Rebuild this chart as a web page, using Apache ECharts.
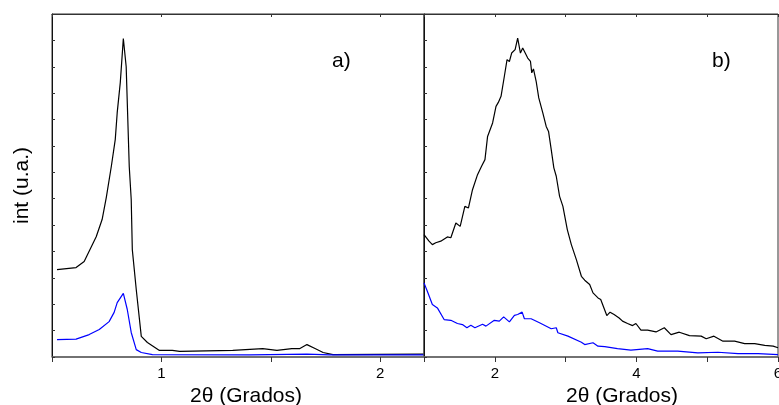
<!DOCTYPE html>
<html>
<head>
<meta charset="utf-8">
<script src="https://cdn.jsdelivr.net/npm/echarts@6/dist/echarts.min.js"></script>
<style>
html,body{margin:0;padding:0;background:#fff;}
#chart{width:779px;height:405px;}
</style>
</head>
<body>
<div id="chart"></div>
<script>
// ---- data ----
const leftBlackX = [0.523,0.610,0.647,0.702,0.729,0.748,0.771,0.789,0.798,0.812,0.826,0.839,0.853,0.862,0.867,0.885,0.908,0.936,0.991,1.050,1.083,1.326,1.463,1.528,1.596,1.633,1.665,1.702,1.739,1.784,2.197];
const leftBlackY = [3.31,3.39,3.62,4.56,5.21,6.04,7.22,8.24,9.26,10.40,12.07,11.00,7.22,5.97,4.07,2.56,0.78,0.55,0.25,0.25,0.21,0.25,0.32,0.25,0.32,0.32,0.47,0.32,0.17,0.09,0.11];
const leftBlueX = [0.523,0.610,0.670,0.716,0.761,0.784,0.798,0.826,0.844,0.862,0.885,0.908,0.959,1.404,1.665,1.771,2.197];
const leftBlueY = [0.66,0.68,0.85,1.04,1.34,1.69,2.06,2.41,1.80,0.93,0.28,0.17,0.09,0.08,0.11,0.08,0.08];

const rightBlackX = [1.000,1.071,1.118,1.166,1.237,1.330,1.379,1.450,1.511,1.577,1.628,1.685,1.756,1.813,1.861,1.898,1.969,2.017,2.050,2.088,2.135,2.173,2.206,2.238,2.287,2.323,2.362,2.394,2.418,2.465,2.504,2.522,2.546,2.584,2.621,2.678,2.726,2.759,2.797,2.834,2.868,2.915,2.962,3.024,3.081,3.152,3.223,3.270,3.340,3.387,3.458,3.496,3.582,3.628,3.685,3.756,3.804,3.875,3.946,3.993,4.064,4.159,4.277,4.394,4.489,4.606,4.749,4.915,4.986,5.095,5.223,5.387,5.529,5.671,5.813,5.932,6.000];
const rightBlackY = [4.64,4.39,4.26,4.33,4.39,4.55,4.52,5.08,4.95,5.71,5.65,6.34,6.91,7.23,7.48,8.36,8.87,9.50,9.65,9.88,10.64,11.27,11.20,11.52,11.65,12.09,11.52,11.71,11.71,11.33,11.20,10.77,10.92,10.45,9.82,9.25,8.74,8.55,7.86,7.17,6.85,6.09,5.71,4.83,4.26,3.69,3.06,2.91,2.75,2.43,2.24,2.18,1.57,1.70,1.61,1.48,1.36,1.27,1.19,1.27,1.02,1.02,0.95,1.11,0.85,0.94,0.81,0.79,0.69,0.79,0.60,0.60,0.51,0.51,0.44,0.41,0.35];
const rightBlueX = [1.000,1.047,1.118,1.189,1.284,1.379,1.472,1.543,1.606,1.662,1.719,1.827,1.875,1.993,2.064,2.125,2.206,2.277,2.323,2.386,2.418,2.513,2.631,2.797,2.868,2.891,3.033,3.223,3.270,3.387,3.458,3.553,3.733,3.922,4.159,4.301,4.584,4.868,5.152,5.435,5.719,6.000];
const rightBlueY = [2.81,2.49,1.99,1.86,1.42,1.39,1.27,1.23,1.11,1.20,1.11,1.24,1.17,1.39,1.36,1.52,1.33,1.58,1.61,1.70,1.45,1.45,1.30,1.07,1.11,0.92,0.79,0.56,0.47,0.54,0.41,0.39,0.32,0.26,0.32,0.22,0.22,0.16,0.18,0.13,0.13,0.09];

const leftTicks = {min: 0.5, max: 2.2, interval: 0.5};
const rightTicks = {min: 1, max: 6, interval: 1};
const yTicks = {min: 0, max: 13, interval: 1};
const xName = '2θ (Grados)';
const yName = 'int (u.a.)';
const panelLabels = ['a)', 'b)'];

const pairs = (xs, ys) => xs.map((x, i) => [x, ys[i]]);
const FONT = 'Liberation Sans, Arial, sans-serif';

function bottomX(grid, t, fmt, pad) {
  return {
    gridIndex: grid, type: 'value', position: 'bottom',
    min: t.min, max: t.max, interval: t.interval,
    axisLine: {show: true, onZero: false, lineStyle: {color: '#666', width: 1.5}},
    axisTick: {show: true, inside: false, length: 5, lineStyle: {color: '#333'}},
    axisLabel: {formatter: fmt, fontSize: 15, color: '#000', margin: 9, fontFamily: FONT},
    splitLine: {show: false},
    name: xName, nameLocation: 'middle', nameGap: 24,
    nameTextStyle: {fontSize: 21, color: '#000', fontFamily: FONT, padding: [0, 0, 0, pad]}
  };
}
function topX(grid, t) {
  return {
    gridIndex: grid, type: 'value', position: 'top',
    min: t.min, max: t.max, interval: t.interval,
    axisLine: {show: true, onZero: false, lineStyle: {color: '#333', width: 1}},
    axisTick: {show: true, inside: true, length: 3, lineStyle: {color: '#333'}},
    axisLabel: {show: false}, splitLine: {show: false}
  };
}
function leftY(grid, withName) {
  const a = {
    gridIndex: grid, type: 'value',
    min: yTicks.min, max: yTicks.max, interval: yTicks.interval,
    axisLine: {show: true, onZero: false, lineStyle: {color: '#111', width: 1}},
    axisTick: {show: true, inside: true, length: 3, lineStyle: {color: '#333'}},
    axisLabel: {show: false}, splitLine: {show: false}
  };
  if (withName) {
    a.name = yName; a.nameLocation = 'middle'; a.nameGap = 19;
    a.nameTextStyle = {fontSize: 21, color: '#000', fontFamily: FONT};
  }
  return a;
}

const chart = echarts.init(document.getElementById('chart'));
chart.setOption({
  animation: false,
  backgroundColor: '#fff',
  grid: [
    {left: 52, right: 355, top: 14, bottom: 48, show: true, borderColor: '#333', borderWidth: 1, containLabel: false, outerBoundsMode: 'none'},
    {left: 424, right: 1, top: 14, bottom: 48, show: true, borderColor: '#333', borderWidth: 1, containLabel: false, outerBoundsMode: 'none'}
  ],
  xAxis: [
    bottomX(0, leftTicks, v => Number.isInteger(v) ? String(v) : '', 16),
    topX(0, leftTicks),
    bottomX(1, rightTicks, v => (v % 2 === 0) ? String(v) : '', 42),
    topX(1, rightTicks)
  ],
  yAxis: [leftY(0, true), leftY(1, false)],
  graphic: [
    {type: 'text', left: 332, top: 51, style: {text: panelLabels[0], fill: '#000', font: '21px ' + FONT}},
    {type: 'text', left: 712, top: 51, style: {text: panelLabels[1], fill: '#000', font: '21px ' + FONT}}
  ],
  series: [
    {type: 'line', xAxisIndex: 0, yAxisIndex: 0, data: pairs(leftBlackX, leftBlackY), showSymbol: false, lineStyle: {color: '#000', width: 1.2}, itemStyle: {color: '#000'}},
    {type: 'line', xAxisIndex: 0, yAxisIndex: 0, data: pairs(leftBlueX, leftBlueY), showSymbol: false, lineStyle: {color: '#0000ff', width: 1.2}, itemStyle: {color: '#0000ff'}},
    {type: 'line', xAxisIndex: 2, yAxisIndex: 1, data: pairs(rightBlackX, rightBlackY), showSymbol: false, lineStyle: {color: '#000', width: 1.2}, itemStyle: {color: '#000'}},
    {type: 'line', xAxisIndex: 2, yAxisIndex: 1, data: pairs(rightBlueX, rightBlueY), showSymbol: false, lineStyle: {color: '#0000ff', width: 1.2}, itemStyle: {color: '#0000ff'}}
  ]
});
</script>
</body>
</html>
